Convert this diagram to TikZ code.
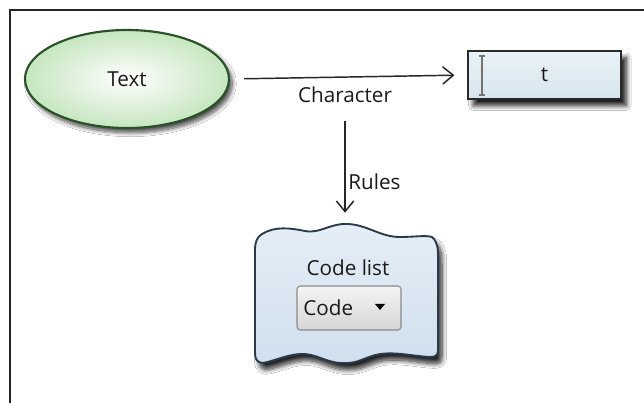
\documentclass[tikz,border=0pt]{standalone}
\usepackage{fontspec}
\setmainfont{Open Sans}
\usetikzlibrary{arrows.meta,shapes.geometric,shadows.blur}
\definecolor{ellline}{HTML}{2A5228}
\definecolor{ellfill}{HTML}{C6E6C0}
\definecolor{boxline}{HTML}{2A2A2A}
\definecolor{boxtop}{HTML}{EAF2F6}
\definecolor{boxbot}{HTML}{D6E6EE}
\definecolor{cloudline}{HTML}{2A3A4A}
\definecolor{cloudtop}{HTML}{E6EEF6}
\definecolor{cloudbot}{HTML}{D0DFEE}
\definecolor{combotop}{HTML}{F4F4F4}
\definecolor{combobot}{HTML}{D6D6D6}
\definecolor{comboline}{HTML}{8A8A8A}
\definecolor{txt}{HTML}{1A1A1A}
\begin{document}
\begin{tikzpicture}[x=0.75pt,y=-0.75pt,
  font=\fontsize{15.5}{18}\selectfont, text=txt,
  arr/.style={draw=black!85, line width=1.1pt,
    -{Straight Barb[length=8pt,width=13pt,line width=1.1pt]}},
  lbl/.style={inner sep=1pt},
  oval/.style={ellipse, draw=ellline, line width=1.6pt,
    inner color=white, outer color=ellfill,
    minimum width=153pt, minimum height=73.5pt,
    blur shadow={shadow xshift=2.5pt, shadow yshift=-3.5pt, shadow opacity=70, shadow blur steps=10, shadow blur radius=3pt}},
  textbox/.style={rectangle, draw=boxline, line width=1.3pt,
    top color=boxtop, bottom color=boxbot,
    minimum width=114.75pt, minimum height=36pt,
    blur shadow={shadow xshift=4pt, shadow yshift=-5pt, shadow opacity=90, shadow blur steps=10, shadow blur radius=3.5pt}},
  area/.style={rectangle, inner sep=0pt, minimum width=137.25pt, minimum height=103.5pt},
  combo/.style={rectangle, rounded corners=2.5pt, draw=comboline, line width=0.8pt,
    top color=combotop, bottom color=combobot,
    minimum width=78pt, minimum height=33pt}
]
\useasboundingbox[fill=white] (0,0) rectangle (644,403);
% frame
\draw[line width=1.3pt, black!85] (10,403) -- (10,10) -- (644,10);

% nodes
\node[oval] (text) at (127,79) {Text};
\node[textbox] (tbox) at (544.5,75) {t};
% I-beam cursor
\draw[black!55, line width=1.4pt] (482,56) -- (482,95);
\draw[black!55, line width=0.8pt] (479,56) -- (485,56) (479,95) -- (485,95);

% cloud-like area
\node[area] (cloud) at (346.5,294) {};
\path[draw=cloudline, line width=1.4pt, top color=cloudtop, bottom color=cloudbot,
  blur shadow={shadow xshift=3pt, shadow yshift=-5pt, shadow opacity=85, shadow blur steps=10, shadow blur radius=3.5pt}]
  (262,234) .. controls (275,226) and (290,228) .. (305,231)
  .. controls (320,234) and (330,223) .. (348,224)
  .. controls (368,225) and (380,237) .. (400,237)
  .. controls (415,237) and (425,235) .. (432,237)
  .. controls (438,242) and (438,250) .. (438,258)
  -- (438,350) .. controls (438,356) and (435,357) .. (430,357)
  .. controls (410,356) and (390,350) .. (372,356)
  .. controls (360,360) and (355,364) .. (340,363)
  .. controls (325,362) and (315,353) .. (300,354)
  .. controls (285,355) and (272,362) .. (262,363)
  .. controls (256,362) and (255,358) .. (255,352)
  -- (255,250) .. controls (255,242) and (257,237) .. (262,234) -- cycle;

\node[lbl] (codelist) at (348,268) {Code list};
\node[combo] (cb) at (349,308) {};
\node[lbl, anchor=west] (code) at ([xshift=4pt]cb.west) {Code};
\fill[black] (375,304) -- (385,304) -- (380,310) -- cycle;

% connectors
\draw[arr, shorten <=10.5pt, shorten >=9.5pt] (text.east) -- (tbox.west)
  node[pos=0.485, below=6pt, lbl] (char) {Character};
\draw[arr, shorten <=12pt, shorten >=9pt] (char.south) -- (char.south |- cloud.north)
  node[pos=0.64, anchor=west, lbl, xshift=1pt] (rules) {Rules};
\end{tikzpicture}
\end{document}
